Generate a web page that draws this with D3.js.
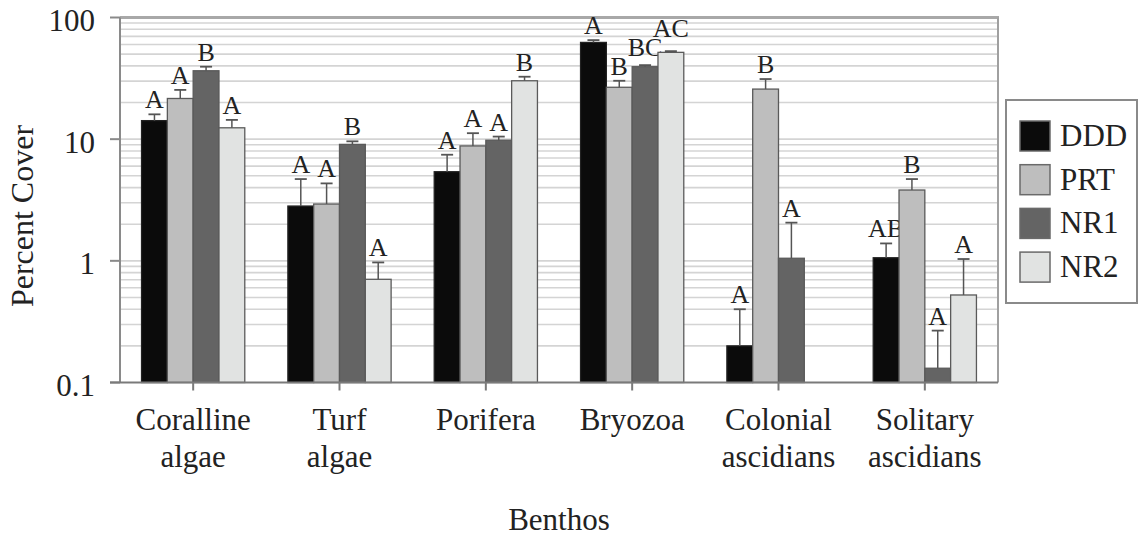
<!DOCTYPE html>
<html>
<head>
<meta charset="utf-8">
<script src="https://cdn.jsdelivr.net/npm/d3@7"></script>
<style>
  html, body { margin: 0; padding: 0; background: #fff; }
  svg { display: block; }
  svg text { font-family: "Liberation Serif", "Times New Roman", serif; }
</style>
</head>
<body>
<svg id="chart" width="1139" height="537"></svg>
<script>
// ---- data ----
const categories = ["Coralline algae", "Turf algae", "Porifera", "Bryozoa", "Colonial ascidians", "Solitary ascidians"];
const seriesNames = ["DDD", "PRT", "NR1", "NR2"];
const seriesColors = ["#0b0b0b", "#bebebe", "#646464", "#e1e3e2"];

const valuesDDD = [14.2, 2.82, 5.4, 62.4, 0.20, 1.06];
const valuesPRT = [21.6, 2.93, 8.8, 26.7, 25.8, 3.82];
const valuesNR1 = [36.5, 9.06, 9.8, 39.4, 1.05, 0.131];
const valuesNR2 = [12.4, 0.705, 30.2, 51.7, null, 0.524];

const upperDDD = [16.0, 4.70, 7.45, 65.2, 0.40, 1.39];
const upperPRT = [25.4, 4.33, 11.2, 30.2, 31.2, 4.70];
const upperNR1 = [39.4, 9.6, 10.5, 40.6, 2.06, 0.267];
const upperNR2 = [14.4, 0.97, 32.6, 52.9, null, 1.035];

const lettersDDD = ["A", "A", "A", "A", "A", "AB"];
const lettersPRT = ["A", "A", "A", "B", "B", "B"];
const lettersNR1 = ["B", "B", "A", "BC", "A", "A"];
const lettersNR2 = ["A", "A", "B", "AC", "", "A"];

const yTickValues = [0.1, 1, 10, 100];
const yTickLabels = ["0.1", "1", "10", "100"];

const values = [valuesDDD, valuesPRT, valuesNR1, valuesNR2];
const uppers = [upperDDD, upperPRT, upperNR1, upperNR2];
const letters = [lettersDDD, lettersPRT, lettersNR1, lettersNR2];

// ---- layout ----
const svg = d3.select("#chart");
const L = 120, R = 998, T = 17.5, B = 382.5;

const x0 = d3.scaleBand().domain(categories).range([L, R]).padding(0);
const x1 = d3.scaleBand().domain(seriesNames).range([0, x0.bandwidth()]).paddingInner(0).paddingOuter(0.835);
const y = d3.scaleLog().domain([0.1, 100]).range([B, T]);

// gridlines (major + minor)
const gridVals = [];
[0.1, 1, 10].forEach(d => { for (let k = 1; k <= 9; k++) gridVals.push(d * k); });
svg.append("g").selectAll("line").data(gridVals.filter(v => v > 0.1 && v < 100)).join("line")
  .attr("x1", L).attr("x2", R)
  .attr("y1", d => y(d)).attr("y2", d => y(d))
  .attr("stroke", "#d4d4d4").attr("stroke-width", 1.6);

// plot border top and right
svg.append("line").attr("x1", L).attr("x2", R + 1).attr("y1", y(100)).attr("y2", y(100))
  .attr("stroke", "#a8a8a8").attr("stroke-width", 3);
svg.append("line").attr("x1", R).attr("x2", R).attr("y1", y(100)).attr("y2", B)
  .attr("stroke", "#a0a0a0").attr("stroke-width", 2);

// bars
const groups = svg.append("g").selectAll("g").data(categories).join("g")
  .attr("transform", d => `translate(${x0(d)},0)`);

const labelLayer = categories.map(() => []);

seriesNames.forEach((s, si) => {
  groups.each(function(cat, ci) {
    const v = values[si][ci];
    if (v == null) return;
    const g = d3.select(this);
    const bx = x1(s), bw = x1.bandwidth();
    g.append("rect")
      .attr("x", bx).attr("width", bw)
      .attr("y", y(v)).attr("height", B - y(v))
      .attr("fill", seriesColors[si])
      .attr("stroke", si === 0 ? "#222" : "#5a5a5a").attr("stroke-width", 1.3);
    const u = uppers[si][ci];
    const cx = bx + bw / 2;
    g.append("line").attr("x1", cx).attr("x2", cx).attr("y1", y(v)).attr("y2", y(u))
      .attr("stroke", "#555").attr("stroke-width", 1.5);
    g.append("line").attr("x1", cx - 6).attr("x2", cx + 6).attr("y1", y(u)).attr("y2", y(u))
      .attr("stroke", "#555").attr("stroke-width", 1.8);
    const lab = letters[si][ci];
    if (lab) {
      const t = g.append("text").attr("x", cx).attr("y", y(u) - 6)
        .attr("text-anchor", "middle").attr("font-size", 26).attr("fill", "#222")
        .text(lab);
      labelLayer[ci][si] = t;
    }
  });
});

// avoid overlapping letters inside a group: lift a label above its left neighbour
const CAP = 18;
labelLayer.forEach(arr => {
  let prev = null;
  for (let si = 0; si < 4; si++) {
    const t = arr[si];
    if (!t) continue;
    if (prev) {
      const a = prev.node().getBBox(), b = t.node().getBBox();
      const hOver = b.x < a.x + a.width + 3 && a.x < b.x + b.width + 3;
      const pa = +prev.attr("y"), pb = +t.attr("y");
      const vOver = (pb - CAP) < pa && (pa - CAP) < pb;
      if (hOver && vOver) t.attr("y", pa - CAP - 1);
    }
    prev = t;
  }
});

// y axis
svg.append("line").attr("x1", L).attr("x2", L).attr("y1", T).attr("y2", B)
  .attr("stroke", "#8a8a8a").attr("stroke-width", 2);
const yAxis = svg.append("g");
yAxis.selectAll("line").data(yTickValues).join("line")
  .attr("x1", L - 10).attr("x2", L).attr("y1", d => y(d)).attr("y2", d => y(d))
  .attr("stroke", "#8a8a8a").attr("stroke-width", 2);
yAxis.selectAll("text").data(yTickValues).join("text")
  .attr("x", 95).attr("y", d => y(d) + 3)
  .attr("dominant-baseline", "central").attr("text-anchor", "end")
  .attr("font-size", 31).attr("fill", "#222")
  .text((d, i) => yTickLabels[i]);

// x axis
svg.append("line").attr("x1", L - 10).attr("x2", R).attr("y1", B).attr("y2", B)
  .attr("stroke", "#7a7a7a").attr("stroke-width", 2);
svg.append("g").selectAll("line").data(categories).join("line")
  .attr("x1", d => x0(d) + x0.bandwidth() / 2).attr("x2", d => x0(d) + x0.bandwidth() / 2)
  .attr("y1", B).attr("y2", B + 8)
  .attr("stroke", "#7a7a7a").attr("stroke-width", 2);

const catLabels = svg.append("g").selectAll("text").data(categories).join("text")
  .attr("text-anchor", "middle").attr("font-size", 31).attr("fill", "#222");
catLabels.each(function(d) {
  const t = d3.select(this);
  const cx = x0(d) + x0.bandwidth() / 2;
  d.split(" ").forEach((w, i) => {
    t.append("tspan").attr("x", cx).attr("y", 430 + i * 37).text(w);
  });
});

// axis titles
svg.append("text").attr("x", (L + R) / 2).attr("y", 530)
  .attr("text-anchor", "middle").attr("font-size", 31).attr("fill", "#222").text("Benthos");
svg.append("text").attr("transform", `translate(33,${216}) rotate(-90)`)
  .attr("text-anchor", "middle").attr("font-size", 32).attr("fill", "#222").text("Percent Cover");

// legend
const lg = svg.append("g");
lg.append("rect").attr("x", 1006).attr("y", 100).attr("width", 131).attr("height", 203)
  .attr("fill", "#fff").attr("stroke", "#8a8a8a").attr("stroke-width", 2);
seriesNames.forEach((s, i) => {
  const sy = 121 + i * 43.7;
  lg.append("rect").attr("x", 1020).attr("y", sy).attr("width", 30).attr("height", 30)
    .attr("fill", seriesColors[i]).attr("stroke", "#6a6a6a").attr("stroke-width", 1.5);
  lg.append("text").attr("x", 1060).attr("y", sy + 25)
    .attr("font-size", 31).attr("fill", "#222").text(s);
});
</script>
</body>
</html>
